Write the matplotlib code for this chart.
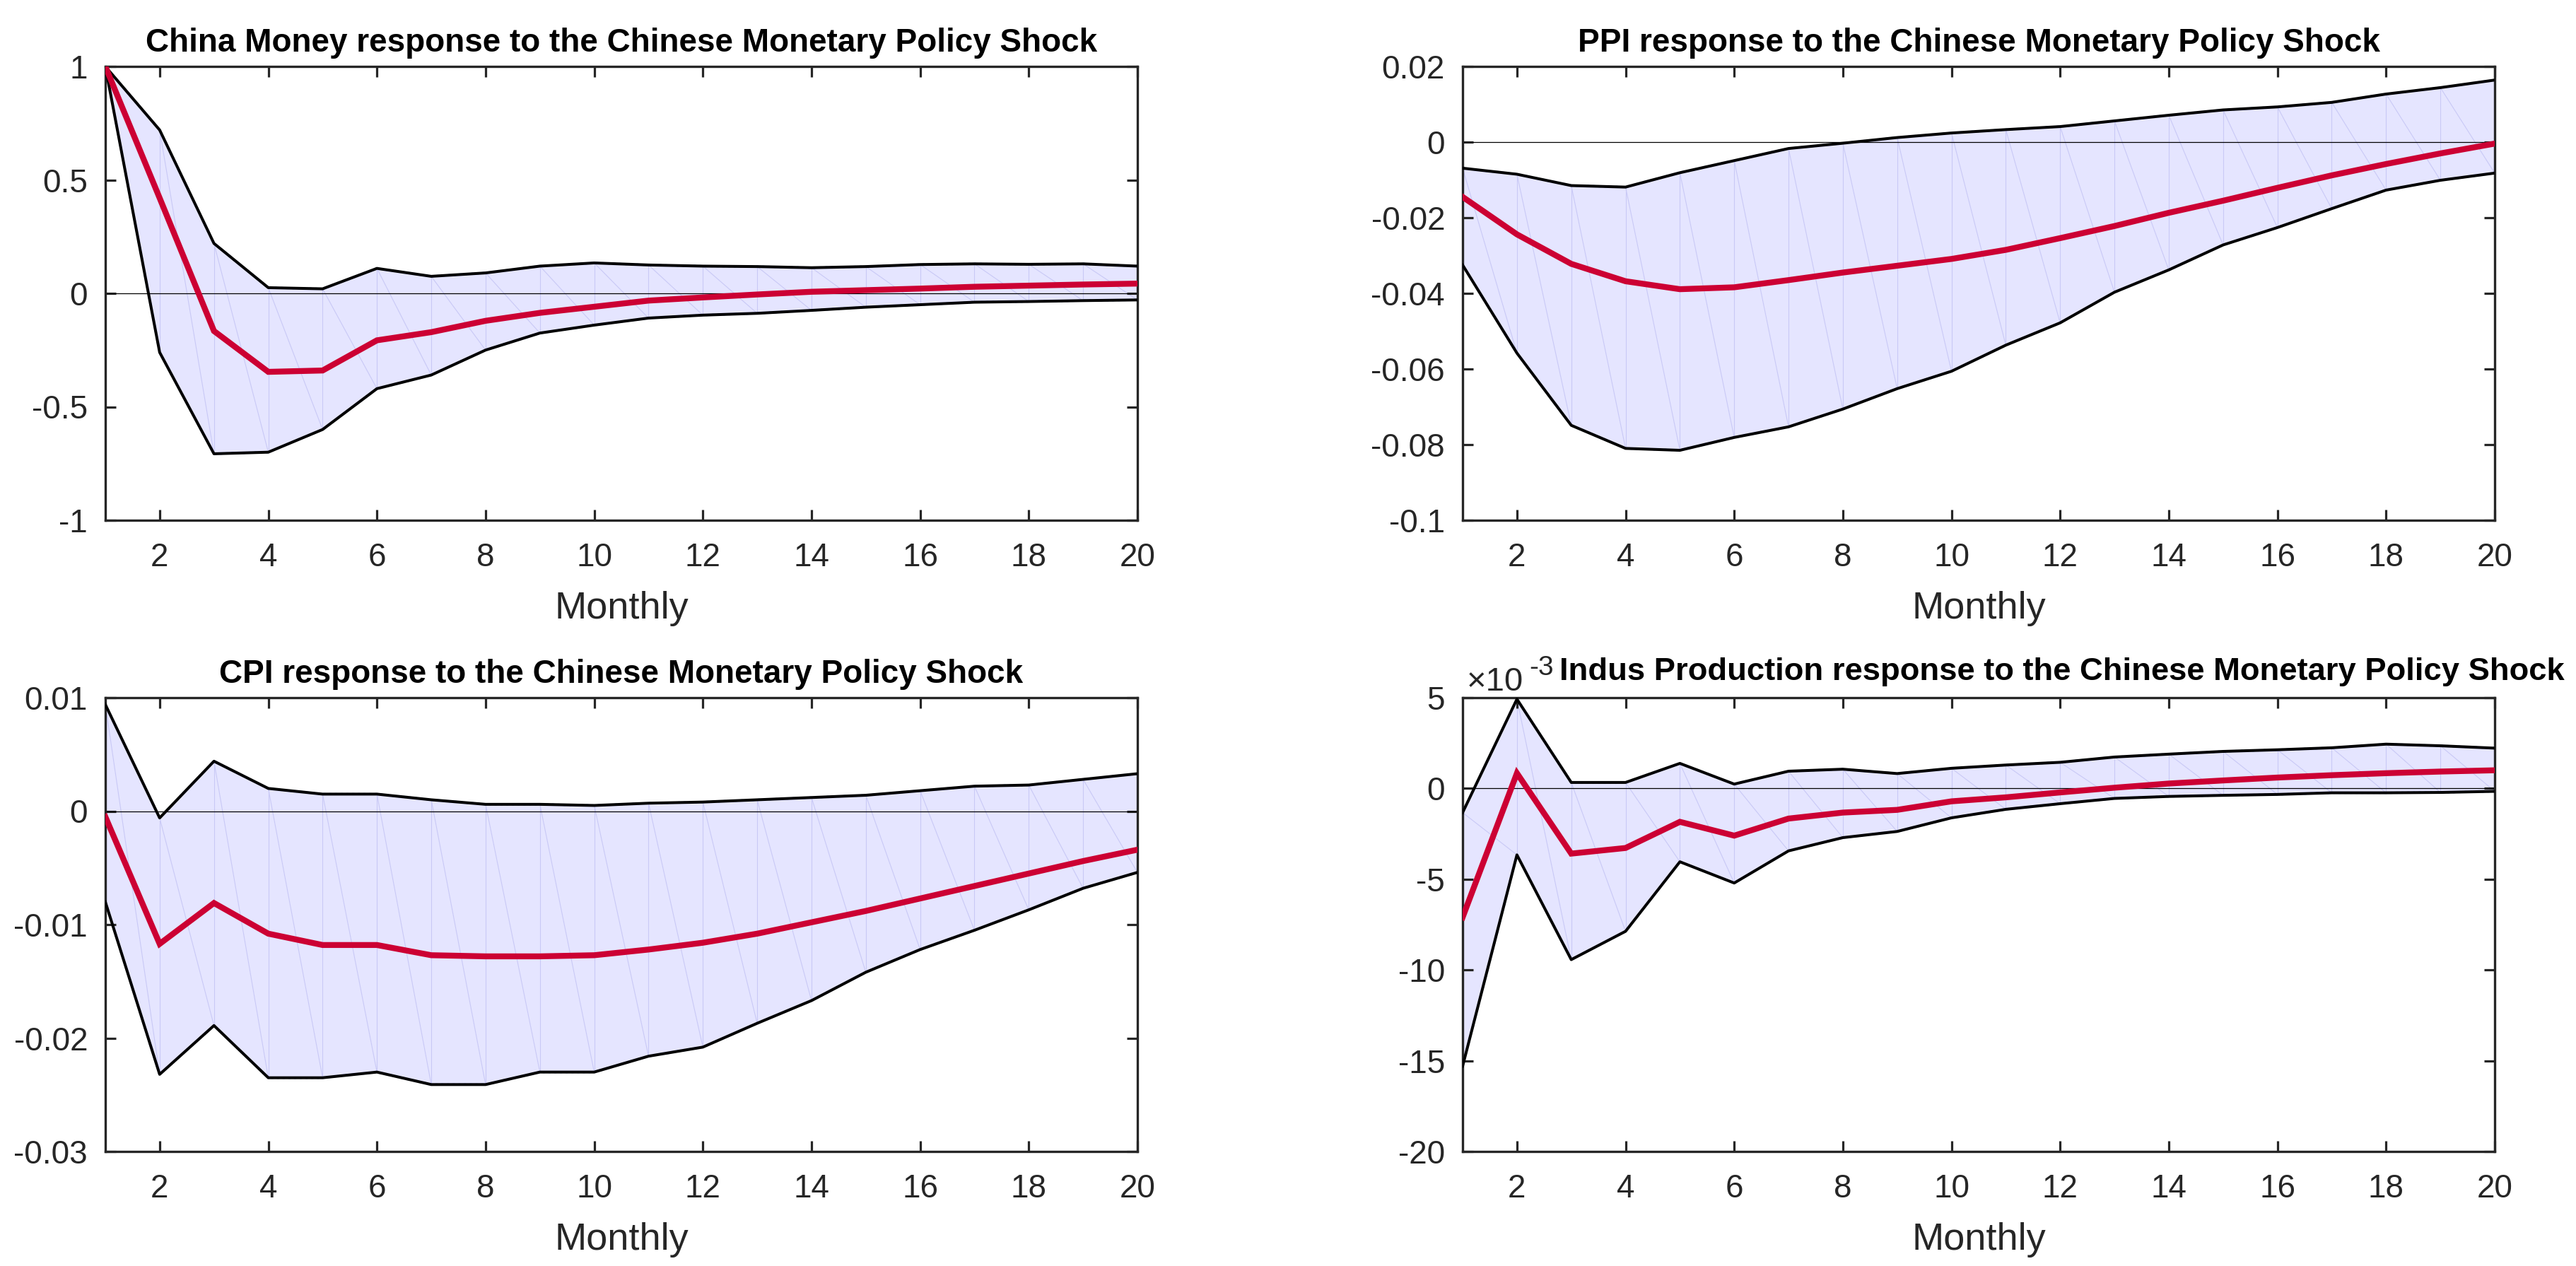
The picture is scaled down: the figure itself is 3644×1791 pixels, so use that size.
import matplotlib
matplotlib.use("Agg")
import matplotlib.pyplot as plt
import numpy as np

plt.rcParams['font.family'] = ['Liberation Sans', 'DejaVu Sans']
plt.rcParams['axes.unicode_minus'] = False

months = list(range(1, 21))
x_ticks = [2, 4, 6, 8, 10, 12, 14, 16, 18, 20]
x_label = "Monthly"

# Panel 1: China Money
money_title = "China Money response to the Chinese Monetary Policy Shock"
money_upper = [1.0, 0.72, 0.22, 0.025, 0.02, 0.11, 0.075, 0.09, 0.12, 0.134,
               0.125, 0.12, 0.118, 0.113, 0.118, 0.127, 0.13, 0.128, 0.13, 0.12]
money_mid = [1.0, 0.42, -0.166, -0.346, -0.34, -0.207, -0.171, -0.121, -0.086, -0.059,
             -0.032, -0.018, -0.005, 0.007, 0.014, 0.021, 0.029, 0.034, 0.039, 0.043]
money_lower = [1.0, -0.26, -0.707, -0.70, -0.60, -0.42, -0.36, -0.25, -0.175, -0.14,
               -0.109, -0.096, -0.088, -0.075, -0.061, -0.05, -0.039, -0.036, -0.032, -0.029]
money_yticks = [-1, -0.5, 0, 0.5, 1]

# Panel 2: PPI
ppi_title = "PPI response to the Chinese Monetary Policy Shock"
ppi_upper = [-0.0069, -0.0085, -0.0115, -0.0119, -0.0081, -0.0049, -0.0017, -0.0003, 0.0012, 0.0024,
             0.0033, 0.0041, 0.0056, 0.0071, 0.0085, 0.0093, 0.0105, 0.0127, 0.0144, 0.0164]
ppi_mid = [-0.0145, -0.0244, -0.0322, -0.0368, -0.0389, -0.0384, -0.0365, -0.0345, -0.0327, -0.0309,
           -0.0285, -0.0254, -0.0222, -0.0187, -0.0155, -0.0121, -0.0088, -0.0058, -0.003, -0.0004]
ppi_lower = [-0.0325, -0.0558, -0.0749, -0.081, -0.0815, -0.0781, -0.0753, -0.0706, -0.0652, -0.0606,
             -0.0537, -0.0478, -0.0397, -0.0338, -0.0272, -0.0226, -0.0176, -0.0127, -0.0101, -0.0082]
ppi_yticks = [-0.1, -0.08, -0.06, -0.04, -0.02, 0, 0.02]

# Panel 3: CPI
cpi_title = "CPI response to the Chinese Monetary Policy Shock"
cpi_upper = [0.0094, -0.0006, 0.0044, 0.002, 0.0015, 0.0015, 0.001, 0.0006, 0.0006, 0.0005,
             0.0007, 0.0008, 0.001, 0.0012, 0.0014, 0.0018, 0.0022, 0.0023, 0.0028, 0.0033]
cpi_mid = [-0.0005, -0.0117, -0.0081, -0.0108, -0.0118, -0.0118, -0.0127, -0.0128, -0.0128, -0.0127,
           -0.0122, -0.0116, -0.0108, -0.0098, -0.0088, -0.0077, -0.0066, -0.0055, -0.0044, -0.0034]
cpi_lower = [-0.008, -0.0232, -0.0189, -0.0235, -0.0235, -0.023, -0.0241, -0.0241, -0.023, -0.023,
             -0.0216, -0.0208, -0.0187, -0.0167, -0.0142, -0.0122, -0.0105, -0.0087, -0.0068, -0.0054]
cpi_yticks = [-0.03, -0.02, -0.01, 0, 0.01]

# Panel 4: Industrial production (values in units of 1e-3)
ip_title = "Indus Production response to the Chinese Monetary Policy Shock"
ip_upper = [-1.33, 4.92, 0.33, 0.33, 1.38, 0.24, 0.95, 1.06, 0.82, 1.11,
            1.29, 1.44, 1.73, 1.89, 2.04, 2.13, 2.24, 2.44, 2.35, 2.22]
ip_mid = [-7.1, 0.84, -3.59, -3.28, -1.84, -2.6, -1.66, -1.33, -1.18, -0.71,
          -0.49, -0.22, 0.04, 0.27, 0.44, 0.6, 0.73, 0.84, 0.93, 1.0]
ip_lower = [-15.3, -3.66, -9.43, -7.87, -4.04, -5.21, -3.44, -2.71, -2.37, -1.62,
            -1.15, -0.84, -0.55, -0.44, -0.38, -0.33, -0.24, -0.24, -0.22, -0.16]
ip_yticks = [-20, -15, -10, -5, 0, 5]

FILL = '#E5E5FF'
TRI = '#C9C9F6'
RED = '#CC0033'
AX = '#262626'

fig = plt.figure(figsize=(36.44, 17.91), dpi=100)
W, H = 3644, 1791
axw, axh = 1460, 642
lefts = [149, 2069]
tops = [94, 987]

panels = [
    (money_title, money_upper, money_mid, money_lower, money_yticks, 0, 0),
    (ppi_title, ppi_upper, ppi_mid, ppi_lower, ppi_yticks, 0, 1),
    (cpi_title, cpi_upper, cpi_mid, cpi_lower, cpi_yticks, 1, 0),
    (ip_title, ip_upper, ip_mid, ip_lower, ip_yticks, 1, 1),
]

for title, up, mid, lo, yt, r, c in panels:
    ax = fig.add_axes([lefts[c] / W, 1 - (tops[r] + axh) / H, axw / W, axh / H])
    xs = np.array(months)
    upa, loa = np.array(up), np.array(lo)
    ax.fill_between(xs, loa, upa, color=FILL, lw=0, zorder=1)
    # faint triangulation edges of the patch
    for i in range(len(xs)):
        ax.plot([xs[i], xs[i]], [loa[i], upa[i]], color=TRI, lw=0.8, zorder=1.5)
        if i + 1 < len(xs):
            ax.plot([xs[i], xs[i + 1]], [upa[i], loa[i + 1]], color=TRI, lw=0.8, zorder=1.5)
    ax.axhline(0, color='k', lw=0.9, zorder=2)
    ax.plot(xs, upa, color='#4A7FE0', lw=2.2, ls=':', zorder=2.5)
    ax.plot(xs, loa, color='#4A7FE0', lw=2.2, ls=':', zorder=2.5)
    ax.plot(xs, upa, color='k', lw=2.9, zorder=3)
    ax.plot(xs, loa, color='k', lw=2.9, zorder=3)
    ax.plot(xs, mid, color=RED, lw=6, zorder=4, solid_joinstyle='miter')

    ax.set_xlim(1, 20)
    ax.set_ylim(yt[0], yt[-1])
    ax.set_xticks(x_ticks)
    ax.set_yticks(yt)
    ax.set_yticklabels(['%g' % v for v in yt])
    ax.tick_params(direction='in', length=11, width=2.3, top=True, right=True,
                   labelsize=33, colors=AX)
    ax.tick_params(axis='x', pad=22)
    ax.tick_params(axis='y', pad=18)
    for s in ax.spines.values():
        s.set_linewidth(2.4)
        s.set_color(AX)
    ax.set_xlabel(x_label, fontsize=39, color=AX, labelpad=18)
    if r == 1 and c == 1:
        ax.text(0.094, 1 + 25 / axh, title, transform=ax.transAxes, ha='left', va='baseline',
                fontsize=32.7, fontweight='bold', color='k')
        ax.text(0.004, 1 + 10 / axh, '\u00d710', transform=ax.transAxes,
                ha='left', va='baseline', fontsize=34, color=AX)
        ax.text(0.0645, 1 + 32 / axh, '-3', transform=ax.transAxes,
                ha='left', va='baseline', fontsize=28, color=AX)
    else:
        ax.set_title(title, fontsize=33, fontweight='bold', color='k', pad=15)

fig.savefig('out.png', dpi=100, facecolor='white')
